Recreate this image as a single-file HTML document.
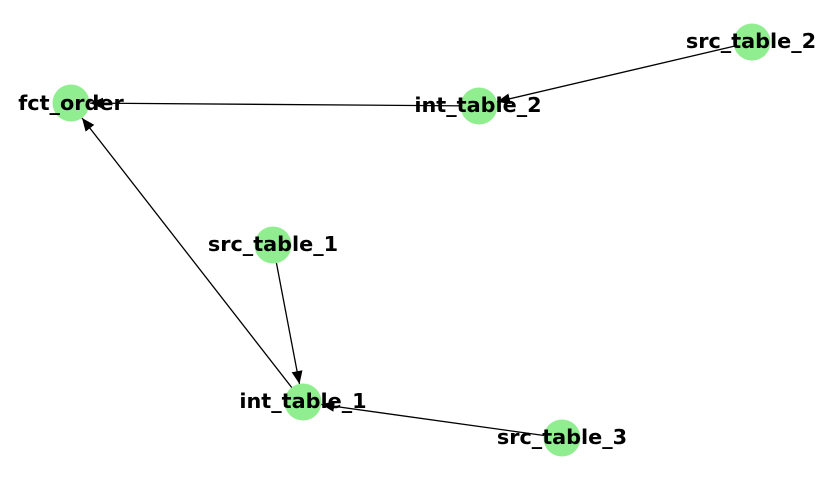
<!DOCTYPE html>
<html><head><meta charset="utf-8"><style>
html,body{margin:0;padding:0;background:#fff;}
svg{display:block;}
text{font-family:"DejaVu Sans","Liberation Sans",sans-serif;font-weight:bold;font-size:20.8px;fill:#000;text-anchor:middle;dominant-baseline:central;}
</style></head><body>
<svg width="823" height="480" viewBox="0 0 823 480" xmlns="http://www.w3.org/2000/svg">
<defs>
<marker id="a" markerUnits="userSpaceOnUse" markerWidth="14" markerHeight="12" refX="13" refY="5.5" orient="auto">
<path d="M0,0 L13,5.5 L0,11 Z" fill="#000"/>
</marker>
</defs>
<g stroke="#000" stroke-width="1.3" fill="none">
<line x1="479" y1="106" x2="90" y2="103.1" marker-end="url(#a)"/>
<line x1="752" y1="42" x2="497" y2="101.8" marker-end="url(#a)"/>
<line x1="303" y1="402" x2="82" y2="118" marker-end="url(#a)"/>
<line x1="273" y1="245" x2="299.5" y2="384" marker-end="url(#a)"/>
<line x1="562" y1="438" x2="321.3" y2="404.5" marker-end="url(#a)"/>
</g>
<g fill="#90ee90">
<circle cx="71" cy="103" r="18.5"/>
<circle cx="479" cy="106" r="18.5"/>
<circle cx="752" cy="42" r="18.5"/>
<circle cx="273" cy="245" r="18.5"/>
<circle cx="303" cy="402" r="18.5"/>
<circle cx="562" cy="438" r="18.5"/>
</g>
<text x="71" y="103">fct_order</text>
<text x="478" y="105">int_table_2</text>
<text x="751" y="41">src_table_2</text>
<text x="273" y="244">src_table_1</text>
<text x="303" y="401">int_table_1</text>
<text x="562" y="437">src_table_3</text>
</svg>
</body></html>
